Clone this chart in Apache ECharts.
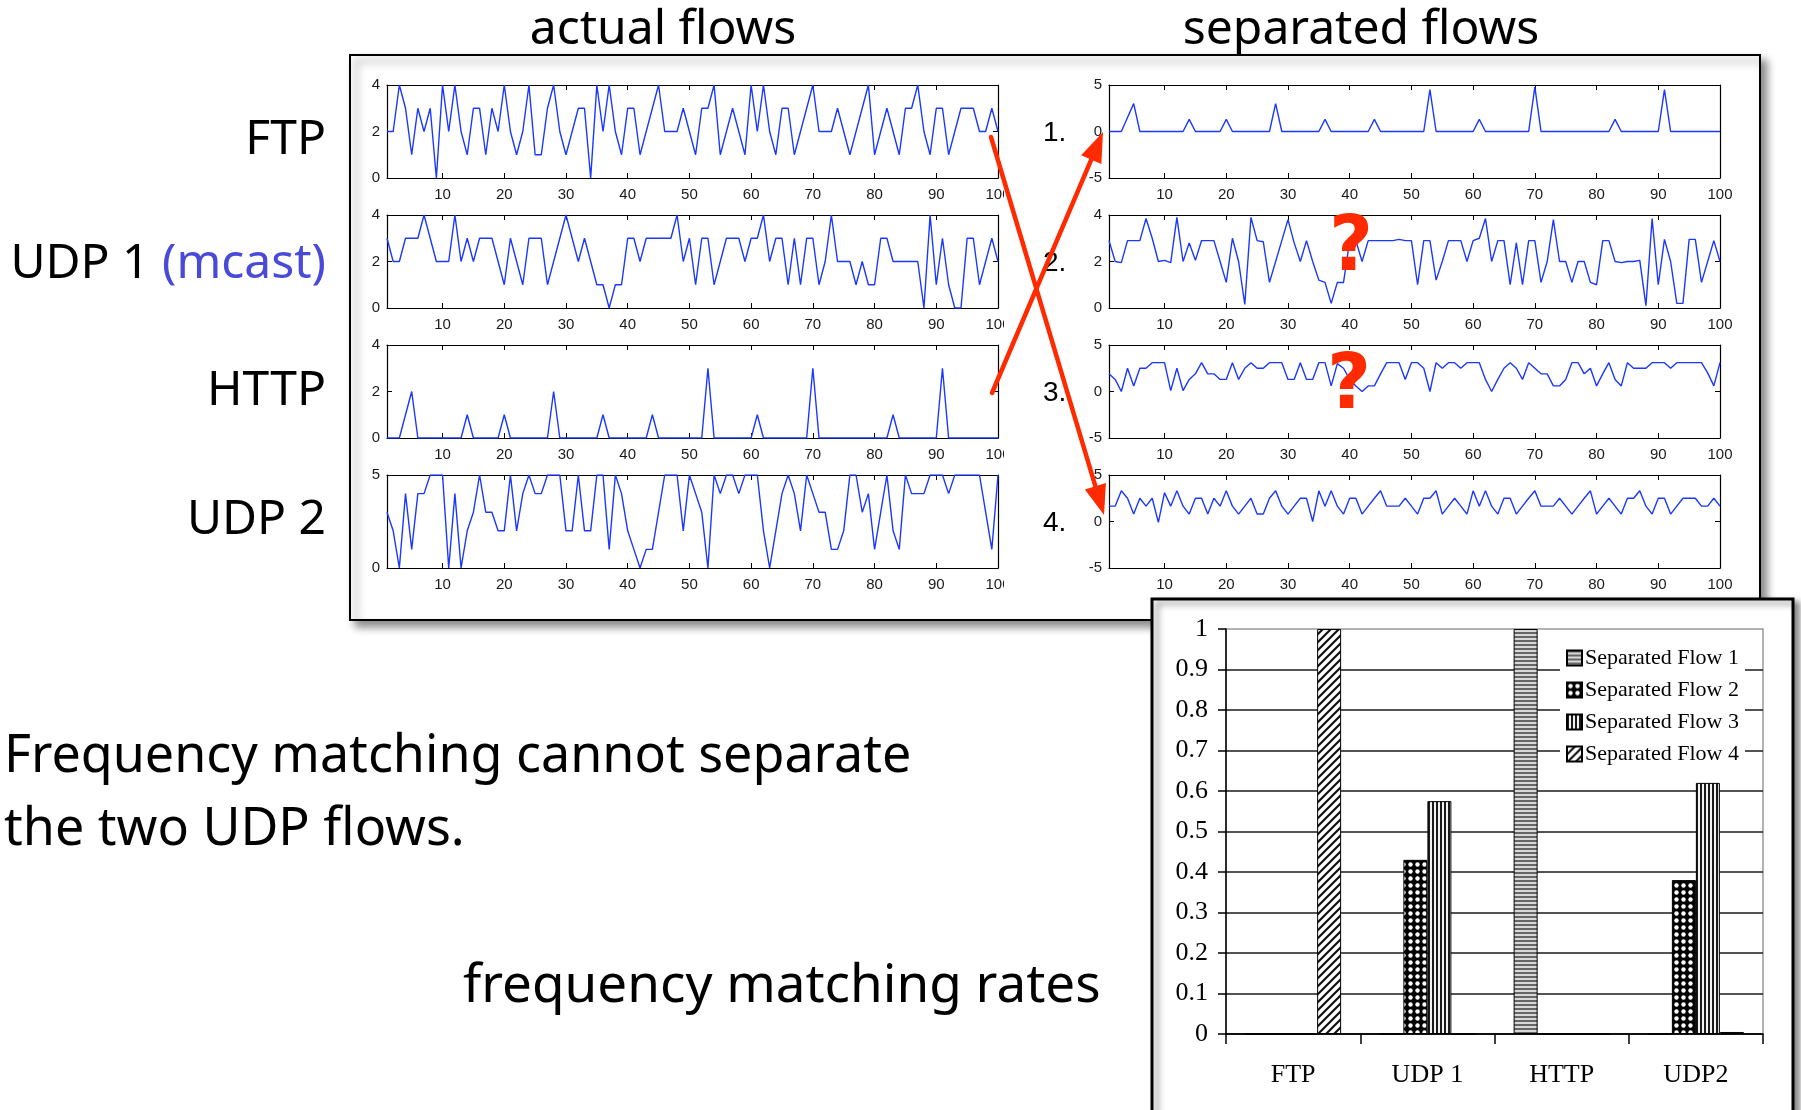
<!DOCTYPE html>
<html><head><meta charset="utf-8">
<script src="https://cdn.jsdelivr.net/npm/echarts@6/dist/echarts.min.js"></script>
<style>html,body{margin:0;padding:0;background:#fff}#c{width:1801px;height:1110px}</style>
</head><body><div id="c"></div><script>
// ---------- DATA ----------
const timeSteps = Array.from({length:100},(_,i)=>i+1);
const lineTicks = [10,20,30,40,50,60,70,80,90,100];

const ftpFlow = [2,2,4,3,1,3,2,3,0,4, 2,4,2,1,3,3,1,3,2,4, 2,1,2,4,1,1,3,4,2,1, 2,3,3,0,4,2,4,2,1,3,
 3,1,2,3,4,2,2,2,3,2, 1,3,3,4,1,2,3,2,1,4, 2,4,2,1,3,3,1,2,3,4, 2,2,2,3,2,1,2,3,4,1, 2,3,2,1,3,3,4,2,1,3, 3,1,2,3,3,3,2,2,3,2];
const udp1Flow = [3,2,2,3,3,3,4,3,2,2, 2,4,2,3,2,3,3,3,2,1, 3,2,1,3,3,3,1,2,3,4, 3,2,3,2,1,1,0,1,1,3,
 3,2,3,3,3,3,3,4,2,3, 1,3,3,1,2,3,3,3,2,3, 3,4,2,3,3,1,3,1,3,3, 1,2,4,2,2,2,1,2,1,1, 3,3,2,2,2,2,2,0,4,1, 3,1,0,0,3,3,1,2,3,2];
const httpFlow = [0,0,0,1,2,0,0,0,0,0, 0,0,0,1,0,0,0,0,0,1, 0,0,0,0,0,0,0,2,0,0, 0,0,0,0,0,1,0,0,0,0,
 0,0,0,1,0,0,0,0,0,0, 0,0,3,0,0,0,0,0,0,0, 1,0,0,0,0,0,0,0,0,3, 0,0,0,0,0,0,0,0,0,0, 0,0,1,0,0,0,0,0,0,0, 3,0,0,0,0,0,0,0,0,0];
const udp2Flow = [3,2,0,4,1,4,4,5,5,5, 0,4,0,2,3,5,3,3,2,2, 5,2,4,5,4,4,5,5,5,2, 2,5,2,2,5,5,1,5,4,2,
 1,0,1,1,3,5,5,5,2,5, 4,3,0,5,4,5,5,4,5,5, 5,2,0,2,4,5,4,2,5,4, 3,3,1,1,2,5,5,3,4,1, 3,5,2,1,5,4,4,4,5,5, 5,4,5,5,5,5,5,3,1,5];

const sepFlow1 = [0,0,0,1.5,3,0,0,0,0,0, 0,0,0,1.3,0,0,0,0,0,1.3, 0,0,0,0,0,0,0,3,0,0, 0,0,0,0,0,1.3,0,0,0,0,
 0,0,0,1.3,0,0,0,0,0,0, 0,0,4.5,0,0,0,0,0,0,0, 1.3,0,0,0,0,0,0,0,0,4.8, 0,0,0,0,0,0,0,0,0,0, 0,0,1.3,0,0,0,0,0,0,0, 4.5,0,0,0,0,0,0,0,0,0];
const sepFlow2 = [2.9,2.0,1.95,2.9,2.9,2.9,3.85,3.0,2.0,2.05, 1.95,3.9,2.0,2.8,2.05,2.9,2.9,2.9,2.0,1.1,
 3.0,2.0,0.15,3.9,2.9,2.85,1.1,2.0,2.9,3.8, 2.8,2.0,2.9,2.0,1.2,1.1,0.2,1.1,1.1,2.9,
 2.9,2.0,2.9,2.9,2.9,2.9,2.9,2.95,2.9,2.9, 1.0,2.9,2.9,1.2,2.0,2.9,2.9,2.9,2.0,2.9,
 3.0,3.85,2.0,2.9,2.9,1.0,2.8,1.0,2.9,2.9, 1.1,2.0,3.8,2.0,2.0,1.1,2.0,2.0,1.1,1.0,
 2.9,2.9,2.0,1.95,2.0,2.0,2.05,0.1,3.85,1.0, 2.95,2.0,0.2,0.2,2.95,2.95,1.1,2.0,2.9,2.0];
const sepFlow3 = [1.9,1.3,0,2.5,0.6,2.5,2.5,3.1,3.1,3.1, 0.1,2.5,0.1,1.3,1.9,3.1,1.9,1.9,1.3,1.3,
 3.1,1.3,2.5,3.1,2.5,2.5,3.1,3.1,3.1,1.3, 1.3,3.1,1.3,1.3,3.1,3.1,0.6,3.0,2.5,1.3,
 0.6,0,0.6,0.6,1.9,3.1,3.1,3.1,1.3,3.1, 3.1,2.5,0,3.1,2.5,3.1,3.1,2.5,3.1,3.1,
 3.1,1.3,0,1.3,2.5,3.1,2.5,1.3,3.1,2.5, 1.9,1.9,0.6,0.6,1.3,3.1,3.1,1.9,2.5,0.6,
 1.9,3.1,1.3,0.6,3.1,2.5,2.5,2.5,3.1,3.1, 3.1,2.5,3.1,3.1,3.1,3.1,3.1,2.0,0.6,3.1];
const sepFlow4 = [1.65,1.65,3.3,2.5,0.8,2.5,1.65,2.5,-0.1,3.1, 1.65,3.3,1.65,0.8,2.5,2.5,0.8,2.5,1.65,3.3,
 1.65,0.8,1.65,2.5,0.8,0.8,2.5,3.3,1.65,0.8, 1.65,2.5,2.5,0,3.3,1.65,3.3,1.65,0.8,2.5,
 2.5,0.8,1.65,2.5,3.3,1.65,1.65,1.65,2.5,1.65, 0.8,2.5,2.5,3.3,0.8,1.65,2.5,1.65,0.8,3.3,
 1.65,3.3,1.65,0.8,2.5,2.5,0.8,1.65,2.5,3.3, 1.65,1.65,1.65,2.5,1.65,0.8,1.65,2.5,3.3,0.8,
 1.65,2.5,1.65,0.8,2.5,2.5,3.3,1.65,0.8,2.5, 2.5,0.8,1.65,2.5,2.5,2.5,1.65,1.65,2.5,1.65];

const barCategories = ['FTP','UDP 1','HTTP','UDP2'];
const barSeriesNames = ['Separated Flow 1','Separated Flow 2','Separated Flow 3','Separated Flow 4'];
const flow1Rates = [0,0,1,0];
const flow2Rates = [0,0.43,0,0.38];
const flow3Rates = [0,0.575,0,0.62];
const flow4Rates = [1,0,0,0.005];

const leftLabels = ['FTP','UDP 1 ','HTTP','UDP 2'];
const rightLabels = ['1.','2.','3.','4.'];

// ---------- LAYOUT ----------
const ROW_TOP=[85,215,345,475], PLOT_H=93, PLOT_W=611, LEFT_X=387, RIGHT_X=1109;
const BLUE='#1a38ff', RED='#ff2a00';
const HAND='"Noto Sans", sans-serif';
const panels = [
  {data:ftpFlow, x:LEFT_X,row:0,min:0,max:4,int:2},
  {data:udp1Flow,x:LEFT_X,row:1,min:0,max:4,int:2},
  {data:httpFlow,x:LEFT_X,row:2,min:0,max:4,int:2},
  {data:udp2Flow,x:LEFT_X,row:3,min:0,max:5,int:5},
  {data:sepFlow1,x:RIGHT_X,row:0,min:-5,max:5,int:5},
  {data:sepFlow2,x:RIGHT_X,row:1,min:0,max:4,int:2},
  {data:sepFlow3,x:RIGHT_X,row:2,min:-5,max:5,int:5},
  {data:sepFlow4,x:RIGHT_X,row:3,min:-5,max:5,int:5}
];

const grid=[], xAxis=[], yAxis=[], series=[];
const axLine={show:true,onZero:false,lineStyle:{color:'#000',width:1.2}};
const lblStyle={color:'#1a1a1a',fontFamily:'"Liberation Sans", Arial, sans-serif',fontSize:15};
panels.forEach((p,i)=>{
  grid.push({left:p.x,top:ROW_TOP[p.row],width:PLOT_W,height:PLOT_H,containLabel:false});
  xAxis.push({type:'value',gridIndex:i,min:1,max:100,position:'bottom',axisLine:axLine,
    axisTick:{show:true,inside:true,length:5,customValues:lineTicks,lineStyle:{color:'#000'}},
    axisLabel:Object.assign({show:true,margin:9,customValues:lineTicks},lblStyle),splitLine:{show:false}});
  xAxis.push({type:'value',gridIndex:i,min:1,max:100,position:'top',axisLine:axLine,
    axisTick:{show:true,inside:true,length:5,customValues:lineTicks,lineStyle:{color:'#000'}},
    axisLabel:{show:false},splitLine:{show:false}});
  yAxis.push({type:'value',gridIndex:i,min:p.min,max:p.max,interval:p.int,position:'left',axisLine:axLine,
    axisTick:{show:true,inside:true,length:5,lineStyle:{color:'#000'}},
    axisLabel:Object.assign({show:true,margin:7},lblStyle),splitLine:{show:false}});
  yAxis.push({type:'value',gridIndex:i,min:p.min,max:p.max,interval:p.int,position:'right',axisLine:axLine,
    axisTick:{show:true,inside:true,length:5,lineStyle:{color:'#000'}},
    axisLabel:{show:false},splitLine:{show:false}});
  series.push({type:'line',xAxisIndex:2*i,yAxisIndex:2*i,showSymbol:false,symbol:'none',
    lineStyle:{color:BLUE,width:1.4},data:p.data.map((v,k)=>[timeSteps[k],v]),z:3});
});

// ---------- BAR CHART ----------
function mkCanvas(w,h,draw){const c=document.createElement('canvas');c.width=w;c.height=h;draw(c.getContext('2d'));return c;}
const patH=mkCanvas(4,4,g=>{g.fillStyle='#d8d8d8';g.fillRect(0,0,4,4);g.fillStyle='#666';g.fillRect(0,0,4,2);});
const patDots=mkCanvas(7,7,g=>{g.fillStyle='#000';g.fillRect(0,0,7,7);g.fillStyle='#fff';g.beginPath();g.arc(3.5,3.5,2.2,0,Math.PI*2);g.fill();});
const patV=mkCanvas(4,4,g=>{g.fillStyle='#f2f2f2';g.fillRect(0,0,4,4);g.fillStyle='#1a1a1a';g.fillRect(0,0,2,4);});
const patD=mkCanvas(8,8,g=>{g.fillStyle='#fff';g.fillRect(0,0,8,8);g.strokeStyle='#111';g.lineWidth=2.2;g.beginPath();
  g.moveTo(0,8);g.lineTo(8,0);g.moveTo(-4,4);g.lineTo(4,-4);g.moveTo(4,12);g.lineTo(12,4);g.stroke();});
const patterns=[patH,patDots,patV,patD];
const rates=[flow1Rates,flow2Rates,flow3Rates,flow4Rates];
const SERIF='"Liberation Serif", "Times New Roman", serif';
const bg=grid.length;
grid.push({left:1226,top:629,width:537,height:405,show:true,borderColor:'#9a9a9a',borderWidth:1.5,backgroundColor:'transparent'});
xAxis.push({type:'category',gridIndex:bg,data:barCategories,axisLine:{show:true,lineStyle:{color:'#000',width:1.5}},
  axisTick:{show:true,length:10,alignWithLabel:false,lineStyle:{color:'#000',width:1.5}},
  axisLabel:{color:'#000',fontFamily:SERIF,fontSize:26,margin:28},splitLine:{show:false}});
yAxis.push({type:'value',gridIndex:bg,min:0,max:1,interval:0.1,axisLine:{show:true,lineStyle:{color:'#000',width:1.5}},
  axisTick:{show:true,length:8,lineStyle:{color:'#000',width:1.5}},
  axisLabel:{color:'#000',fontFamily:SERIF,fontSize:26,margin:18},
  splitLine:{show:true,showMaxLine:false,lineStyle:{color:'#1a1a1a',width:1.5}}});
barSeriesNames.forEach((n,i)=>{
  series.push({type:'bar',name:n,xAxisIndex:2*panels.length,yAxisIndex:2*panels.length,data:rates[i],
    barWidth:24,barGap:'0%',itemStyle:{color:{image:patterns[i],repeat:'repeat'},borderColor:'#000',borderWidth:1},z:3});
});

// ---------- ANNOTATIONS ----------
const mctx=document.createElement('canvas').getContext('2d');
mctx.font='48px "Noto Sans"';
const mcastW=mctx.measureText('(mcast)').width;
const LABEL_Y=[140,264,391,520];
const NUM_Y=[133,263,393,523];
const graphics=[];
graphics.push({type:'rect',shape:{x:350,y:55,width:1410,height:565},z:-10,silent:true,
  style:{fill:'#fff',stroke:'#000',lineWidth:2,shadowBlur:8,shadowOffsetX:6,shadowOffsetY:6,shadowColor:'rgba(0,0,0,0.45)'}});
graphics.push({type:'rect',shape:{x:1152,y:599,width:641,height:540},z:-5,silent:true,
  style:{fill:'#fff',stroke:'#000',lineWidth:3,shadowBlur:6,shadowOffsetX:5,shadowOffsetY:4,shadowColor:'rgba(0,0,0,0.45)'}});
function txt(t,x,y,font,fill,align,z){return {type:'text',z:z||20,silent:true,
  style:{text:t,x:x,y:y,font:font,fill:fill,textAlign:align,textVerticalAlign:'middle'}};}
const F48='normal 48px '+HAND, F52='normal 52px '+HAND, F53='normal 53px '+HAND;
graphics.push(txt('actual flows',663,30,F48,'#000','center'));
graphics.push(txt('separated flows',1361,30,F48,'#000','center'));
leftLabels.forEach((t,i)=>{
  if(i===1){
    graphics.push(txt('(mcast)',326,LABEL_Y[i],F48,'#4a4ad8','right'));
    graphics.push(txt(t,326-mcastW,LABEL_Y[i],F48,'#000','right'));
  } else graphics.push(txt(t,326,LABEL_Y[i],F48,'#000','right'));
});
rightLabels.forEach((t,i)=>graphics.push(txt(t,1043,NUM_Y[i],'normal 28px "Liberation Sans", Arial, sans-serif','#000','left')));
graphics.push(txt('Frequency matching cannot separate',4,757,F52,'#000','left'));
graphics.push(txt('the two UDP flows.',4,830,F52,'#000','left'));
graphics.push(txt('frequency matching rates',463,987,F53,'#000','left'));
// crop of the last left tick label, as in the source figure
ROW_TOP.forEach(t=>graphics.push({type:'rect',shape:{x:1004,y:t+PLOT_H+6,width:28,height:24},style:{fill:'#fff'},z:5,silent:true}));
function arrowEls(x1,y1,x2,y2){
  const dx=x2-x1,dy=y2-y1,L=Math.hypot(dx,dy),ux=dx/L,uy=dy/L,hl=30,hw=11;
  const bx=x2-ux*hl,by=y2-uy*hl;
  return [{type:'line',z:50,silent:true,shape:{x1:x1,y1:y1,x2:bx+ux*3,y2:by+uy*3},style:{stroke:RED,lineWidth:4.5,lineCap:'round'}},
    {type:'polygon',z:50,silent:true,shape:{points:[[x2,y2],[bx-uy*hw,by+ux*hw],[bx+uy*hw,by-ux*hw]]},style:{fill:RED}}];
}
graphics.push(...arrowEls(991,137,1104,515));
graphics.push(...arrowEls(992,393,1103,132));
graphics.push(txt('?',1351,250,'bold 76px "DejaVu Sans", sans-serif',RED,'center',50));
graphics.push(txt('?',1349,388,'bold 76px "DejaVu Sans", sans-serif',RED,'center',50));

const option={
  animation:false,
  backgroundColor:'#fff',
  grid:grid,xAxis:xAxis,yAxis:yAxis,series:series,
  legend:{data:barSeriesNames,orient:'vertical',left:1560,top:641,itemWidth:15,itemHeight:15,itemGap:10,icon:'rect',
    padding:[6,6,6,6],backgroundColor:'#fff',selectedMode:false,
    textStyle:{fontFamily:SERIF,fontSize:22,color:'#000',padding:[0,0,0,-2]}},
  graphic:{elements:graphics}
};
const chart=echarts.init(document.getElementById('c'),null,{renderer:'canvas'});
chart.setOption(option);
</script></body></html>
